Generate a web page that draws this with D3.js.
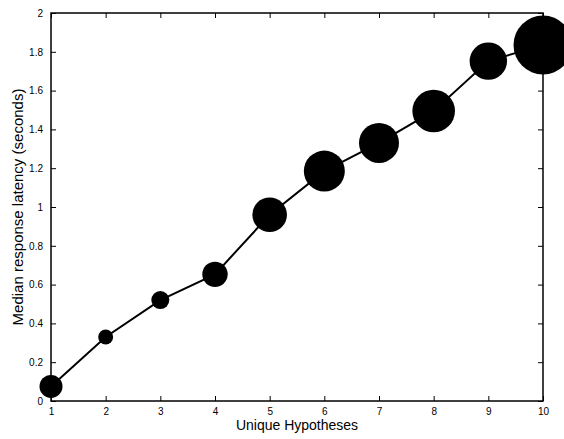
<!DOCTYPE html>
<html>
<head>
<meta charset="utf-8">
<script src="https://cdn.jsdelivr.net/npm/d3@7"></script>
<style>
  html, body { margin: 0; padding: 0; background: #fff; }
  svg { display: block; font-family: "Liberation Sans", Arial, Helvetica, sans-serif; }
</style>
</head>
<body>
<svg id="chart" width="564" height="439"></svg>
<script>
// Number of unique hypotheses
const hypotheses = [1, 2, 3, 4, 5, 6, 7, 8, 9, 10];
// Median response latency in seconds
const latency = [0.075, 0.33, 0.52, 0.653, 0.96, 1.185, 1.33, 1.495, 1.752, 1.835];
// Number of trials at each level (drives marker area)
const trials = [132, 56, 81, 161, 299, 420, 400, 454, 350, 870];
const xTicks = [1, 2, 3, 4, 5, 6, 7, 8, 9, 10];
const yTicks = [0, 0.2, 0.4, 0.6, 0.8, 1, 1.2, 1.4, 1.6, 1.8, 2];

const svg = d3.select("#chart");
const plotLeft = 51, plotRight = 543, plotTop = 13, plotBottom = 401;

const x = d3.scaleLinear().domain([1, 10]).range([plotLeft, plotRight]);
const y = d3.scaleLinear().domain([0, 2]).range([plotBottom, plotTop]);
const r = d3.scaleSqrt().domain([0, 870]).range([0, 29.5]);

const tickLen = 5;
const fmt = d => String(d);

// Bottom axis
const gx = svg.append("g").attr("transform", `translate(0,${plotBottom})`)
  .call(d3.axisBottom(x).tickValues(xTicks).tickFormat(fmt).tickSizeInner(-tickLen).tickSizeOuter(0));
// Top axis (ticks only)
const gxt = svg.append("g").attr("transform", `translate(0,${plotTop})`)
  .call(d3.axisTop(x).tickValues(xTicks).tickFormat("").tickSizeInner(-tickLen).tickSizeOuter(0));
// Left axis
const gy = svg.append("g").attr("transform", `translate(${plotLeft},0)`)
  .call(d3.axisLeft(y).tickValues(yTicks).tickFormat(fmt).tickSizeInner(-tickLen).tickSizeOuter(0));
// Right axis (ticks only)
const gyr = svg.append("g").attr("transform", `translate(${plotRight},0)`)
  .call(d3.axisRight(y).tickValues(yTicks).tickFormat("").tickSizeInner(-tickLen).tickSizeOuter(0));

[gx, gxt, gy, gyr].forEach(g => {
  g.select(".domain").remove();
  g.selectAll(".tick line").attr("stroke", "#000").attr("stroke-width", 1);
  g.selectAll(".tick text").attr("fill", "#000").style("font-size", "10px")
    .style("font-family", "'Liberation Sans', Arial, Helvetica, sans-serif");
});
gx.selectAll(".tick text").attr("y", 10).attr("dy", "0.35em");
gy.selectAll(".tick text").attr("x", -8);

// Axes box
svg.append("rect")
  .attr("x", plotLeft).attr("y", plotTop)
  .attr("width", plotRight - plotLeft).attr("height", plotBottom - plotTop)
  .attr("fill", "none").attr("stroke", "#000").attr("stroke-width", 1.5);

const pts = hypotheses.map((h, i) => ({ h, v: latency[i], n: trials[i] }));

// Connecting line
svg.append("path")
  .datum(pts)
  .attr("fill", "none").attr("stroke", "#000").attr("stroke-width", 2)
  .attr("d", d3.line().x(d => x(d.h)).y(d => y(d.v)));

// Markers sized by trial count
svg.append("g").selectAll("circle")
  .data(pts).join("circle")
  .attr("cx", d => x(d.h)).attr("cy", d => y(d.v))
  .attr("r", d => r(d.n))
  .attr("fill", "#000");

// Axis titles
svg.append("text")
  .attr("x", (plotLeft + plotRight) / 2).attr("y", 430)
  .attr("text-anchor", "middle").style("font-size", "14px")
  .text("Unique Hypotheses");

svg.append("text")
  .attr("transform", `translate(23,${(plotTop + plotBottom) / 2}) rotate(-90)`)
  .attr("text-anchor", "middle").style("font-size", "15px")
  .text("Median response latency (seconds)");
</script>
</body>
</html>
